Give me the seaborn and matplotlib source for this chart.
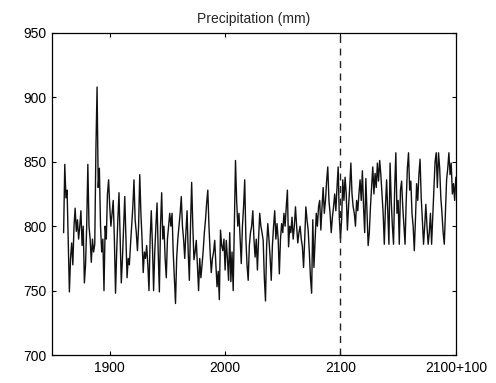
import numpy as np
import pandas as pd
import matplotlib
matplotlib.use("Agg")
import matplotlib.pyplot as plt
import seaborn as sns

start_year = 1860
# Annual precipitation (mm), grouped in chunks
vals_1860 = [795, 848, 822, 828, 790, 749, 775, 787, 770, 800,
             814, 796, 805, 790, 800, 812, 785, 800, 756, 770,
             800, 848, 800, 790, 772, 790, 780, 786, 860, 908,
             830, 845, 800, 780, 790, 750, 800, 790, 825, 836,
             815, 800, 810, 820]
vals_1904 = [790, 748, 780, 805, 826, 790, 756, 775, 800, 823,
             790, 760, 775, 770, 786, 800, 815, 836, 805, 795,
             781, 800, 840, 810, 790, 764, 780, 775, 785, 770,
             750, 790, 812, 785, 750, 780, 800, 818, 780, 749,
             800, 826, 790, 800, 775, 760, 790, 800, 810]
vals_1953 = [800, 810, 780, 760, 740, 775, 790, 800, 810, 823,
             800, 790, 775, 795, 812, 780, 758, 800, 834, 800,
             774, 780, 789, 770, 750, 775, 760, 770, 781, 795,
             805, 818, 828, 800, 780, 764, 775, 780, 789, 770,
             753, 765, 743, 797, 785, 781, 790, 766, 789, 775,
             758]
vals_2004 = [795, 757, 780, 750, 800, 851, 820, 800, 810, 790,
             771, 800, 815, 836, 790, 770, 758, 785, 795, 800,
             812, 790, 776, 790, 766, 790, 810, 800, 795, 789,
             760, 742, 785, 802, 790, 776, 758, 785, 800, 812,
             790, 802, 790, 763, 790, 802, 795, 810, 800, 815,
             828]
vals_2055 = [784, 800, 795, 807, 790, 800, 815, 800, 787, 795,
             800, 790, 784, 768, 790, 815, 805, 797, 780, 760,
             748, 805, 768, 790, 810, 800, 815, 820, 797, 815,
             830, 810, 820, 835, 846, 820, 810, 795, 807, 815,
             825, 812, 830, 846, 807, 790, 805, 836, 820, 838]
vals_2105 = [825, 797, 815, 830, 849, 825, 815, 810, 800, 820,
             812, 825, 836, 820, 843, 815, 795, 837, 810, 785,
             795, 815, 830, 846, 825, 841, 830, 849, 835, 851,
             840, 825, 810, 786, 815, 836, 810, 786, 849, 820,
             800, 786, 830, 857, 810, 820, 786, 828]
vals_2153 = [835, 815, 800, 786, 820, 845, 857, 828, 835, 810,
             800, 781, 805, 833, 820, 840, 852, 822, 805, 786,
             800, 817, 800, 786, 795, 810, 786, 807, 830, 850,
             857, 830, 857, 845, 822, 810, 795, 786, 810, 836,
             845, 857, 840, 849, 825, 833, 820, 838]

values = vals_1860 + vals_1904 + vals_1953 + vals_2004 + vals_2055 + vals_2105 + vals_2153
years = np.arange(start_year, start_year + len(values))

x_ticks = [1900, 2000, 2100, 2200]
x_tick_labels = ["1900", "2000", "2100", "2100+100"]
y_ticks = [700, 750, 800, 850, 900, 950]
split_year = 2100

df = pd.DataFrame({"year": years, "precip": values})

sns.set_style("ticks")
plt.rcParams["font.family"] = ["Liberation Sans", "DejaVu Sans"]

fig = plt.figure(figsize=(4.96, 3.83), dpi=100)
ax = fig.add_axes([0.105, 0.073, 0.814, 0.841])

sns.lineplot(data=df, x="year", y="precip", ax=ax, color="#111111", linewidth=1.0)
ax.axvline(split_year, color="#222222", linestyle=(0, (5, 4)), linewidth=1.0)

ax.set_xlim(1850, 2200)
ax.set_ylim(700, 950)
ax.set_xticks(x_ticks)
ax.set_xticklabels(x_tick_labels)
ax.set_yticks(y_ticks)
ax.set_xlabel("")
ax.set_ylabel("")
ax.set_title("Precipitation (mm)", fontsize=10, pad=7)
ax.tick_params(direction="in", top=True, right=True, length=3, width=0.8,
               labelsize=10, colors="black", pad=4)
for s in ax.spines.values():
    s.set_visible(True)
    s.set_linewidth(0.9)
    s.set_color("black")

fig.savefig("out.png", dpi=100)
